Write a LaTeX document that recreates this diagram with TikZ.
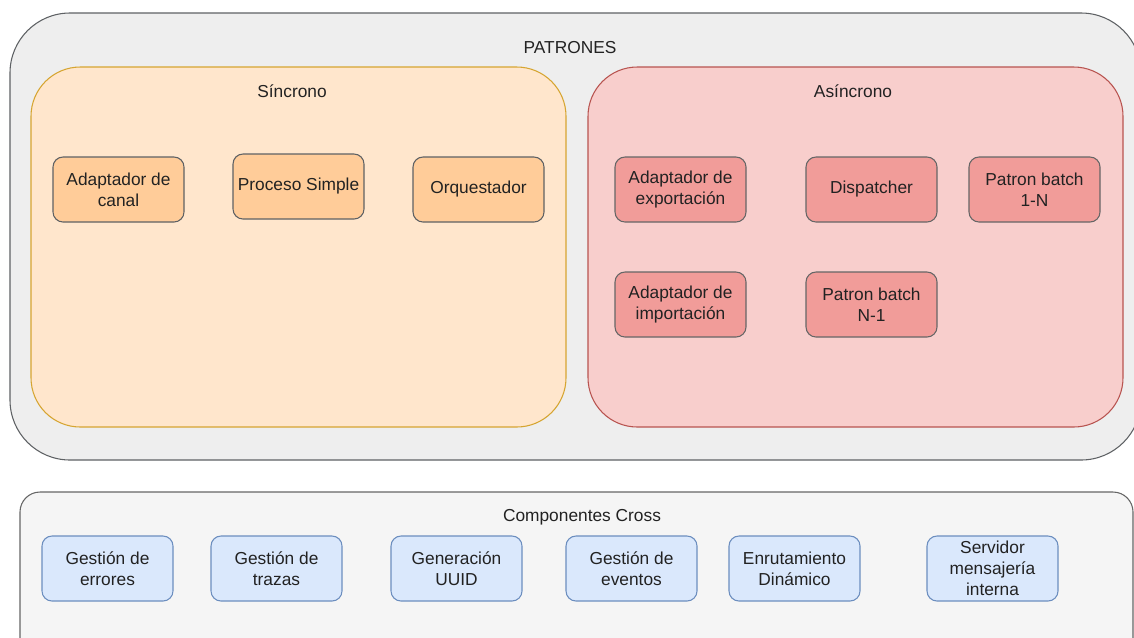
\documentclass[tikz,border=0pt]{standalone}
\usepackage{fontspec}
\setmainfont{Liberation Sans}
\definecolor{outerfill}{HTML}{EEEEEE}
\definecolor{outerline}{HTML}{36393D}
\definecolor{syncfill}{HTML}{FFE6CC}
\definecolor{syncline}{HTML}{D6A531}
\definecolor{syncnode}{HTML}{FFCC99}
\definecolor{asyncfill}{HTML}{F8CECC}
\definecolor{asyncline}{HTML}{B85450}
\definecolor{asyncnode}{HTML}{F19C99}
\definecolor{crossfill}{HTML}{F5F5F5}
\definecolor{crossline}{HTML}{666666}
\definecolor{bluefill}{HTML}{DAE8FC}
\definecolor{blueline}{HTML}{6C8EBF}
\definecolor{txt}{HTML}{222222}

\begin{document}
\begin{tikzpicture}
		[x=0.75pt,y=-0.75pt,line width=0.8pt,
		 every node/.style={text=txt,font=\fontsize{13}{15.75}\selectfont,align=center},
		 title/.style={anchor=center},
		 box/.style={draw,rounded corners=7.5pt,minimum width=98.25pt,minimum height=48.75pt,inner sep=2pt},
		 syncbox/.style={box,fill=syncnode,draw=outerline!80},
		 asyncbox/.style={box,fill=asyncnode,draw=crossline},
		 crossbox/.style={box,fill=bluefill,draw=blueline}]
		\useasboundingbox (0,0) rectangle (1134,637);
		\clip (0,0) rectangle (1134,637);

		% contenedores
		\draw[fill=outerfill,draw=outerline!80,rounded corners=45pt] (10,13) rectangle (1141,460);
		\draw[fill=syncfill,draw=syncline,rounded corners=37pt] (31,67) rectangle (566,427);
		\draw[fill=asyncfill,draw=asyncline,rounded corners=37pt] (588,67) rectangle (1123,427);
		\draw[fill=crossfill,draw=crossline,rounded corners=15pt] (20,492) rectangle (1133,680);

		\node[title] (tp) at (570,48) {PATRONES};
		\node[title] (ts) at (292,91) {Síncrono};
		\node[title] (ta) at (853,91) {Asíncrono};
		\node[title] (tc) at (582,517) {Componentes Cross};

		% sincrono
		\node[syncbox] (s1) at (118.5,189.5) {Adaptador de\\canal};
		\node[syncbox] (s2) at (298.5,186.5) {Proceso Simple};
		\node[syncbox] (s3) at (478.5,189.5) {Orquestador};

		% asincrono
		\node[asyncbox] (a1) at (680.5,189.5) {Adaptador de\\exportación};
		\node[asyncbox] (a2) at (871.5,189.5) {Dispatcher};
		\node[asyncbox] (a3) at (1034.5,189.5) {Patron batch\\1-N};
		\node[asyncbox] (a4) at (680.5,304.5) {Adaptador de\\importación};
		\node[asyncbox] (a5) at (871.5,304.5) {Patron batch\\N-1};

		% componentes cross
		\node[crossbox] (c1) at (107.5,568.5) {Gestión de\\errores};
		\node[crossbox] (c2) at (276.5,568.5) {Gestión de\\trazas};
		\node[crossbox] (c3) at (456.5,568.5) {Generación\\UUID};
		\node[crossbox] (c4) at (631.5,568.5) {Gestión de\\eventos};
		\node[crossbox] (c5) at (794.5,568.5) {Enrutamiento\\Dinámico};
		\node[crossbox] (c6) at (992.5,568.5) {Servidor\\mensajería\\interna};

	\end{tikzpicture}
\end{document}
